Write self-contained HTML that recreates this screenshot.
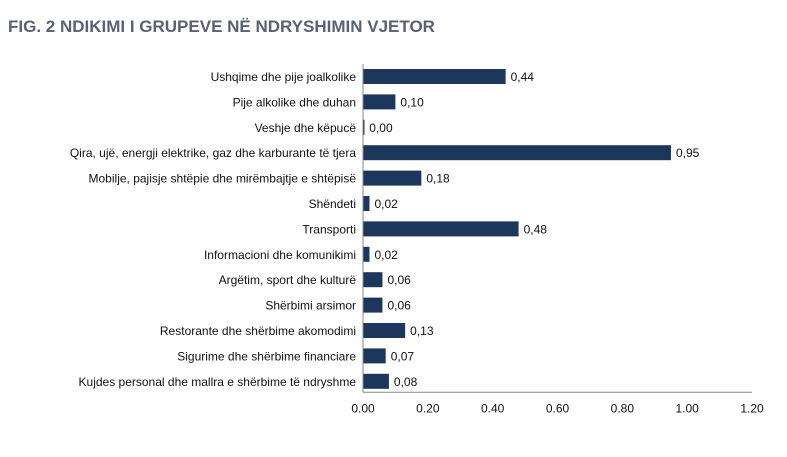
<!DOCTYPE html>
<html><head><meta charset="utf-8"><style>
body{margin:0;background:#fff;width:787px;height:457px;overflow:hidden;font-family:"Liberation Sans",sans-serif}
#title{position:absolute;left:8px;top:17px;font-size:17px;font-weight:bold;color:#5b6075;letter-spacing:0px}
svg{position:absolute;left:0;top:0}
</style></head><body>
<div id="title">FIG. 2 NDIKIMI I GRUPEVE NË NDRYSHIMIN VJETOR</div>
<svg id="chart" width="787" height="457"></svg>
<script>
const categories=["Ushqime dhe pije joalkolike","Pije alkolike dhe duhan","Veshje dhe këpucë","Qira, ujë, energji elektrike, gaz dhe karburante të tjera","Mobilje, pajisje shtëpie dhe mirëmbajtje e shtëpisë","Shëndeti","Transporti","Informacioni dhe komunikimi","Argëtim, sport dhe kulturë","Shërbimi arsimor","Restorante dhe shërbime akomodimi","Sigurime dhe shërbime financiare","Kujdes personal dhe mallra e shërbime të ndryshme"];
const values=[0.44,0.10,0.004,0.95,0.18,0.02,0.48,0.02,0.06,0.06,0.13,0.07,0.08];
const valueLabels=["0,44","0,10","0,00","0,95","0,18","0,02","0,48","0,02","0,06","0,06","0,13","0,07","0,08"];
const ticks=[0,0.2,0.4,0.6,0.8,1.0,1.2];
const tickLabels=["0.00","0.20","0.40","0.60","0.80","1.00","1.20"];
const NS="http://www.w3.org/2000/svg";
const svg=document.getElementById('chart');
const x0=363,x1=752,top0=64,step=25.4;
const xs=v=>x0+(v/1.2)*(x1-x0);
const yc=i=>top0+12.5+i*step;
function mk(t,a){const e=document.createElementNS(NS,t);for(const k in a)e.setAttribute(k,a[k]);svg.appendChild(e);return e;}
const axisY=yc(12)+11;
categories.forEach((c,i)=>{
 const r=mk('rect',{x:x0,y:yc(i)-7.5,width:Math.max(xs(values[i])-x0,1.5),height:15,fill:'#1c365c'});
 
 
 const l=mk('text',{x:x0-7,y:yc(i)+4.5,'text-anchor':'end','font-size':'12',fill:'#111'});
 l.textContent=c;
 
 
 const v=mk('text',{x:xs(values[i])+5,y:yc(i)+4.5,'font-size':'12',fill:'#111'});
 v.textContent=valueLabels[i];
 
 
});
const ya=mk('line',{x1:x0,y1:top0,x2:x0,y2:axisY,stroke:'#888','stroke-width':1});


const xa=mk('line',{x1:x0,y1:axisY,x2:x1,y2:axisY,stroke:'#888','stroke-width':1});


ticks.forEach((t,i)=>{
 const e=mk('text',{x:xs(t),y:axisY+20,'text-anchor':'middle','font-size':'12',fill:'#111'});
 e.textContent=tickLabels[i];
 
 
});
</script>
</body></html>
